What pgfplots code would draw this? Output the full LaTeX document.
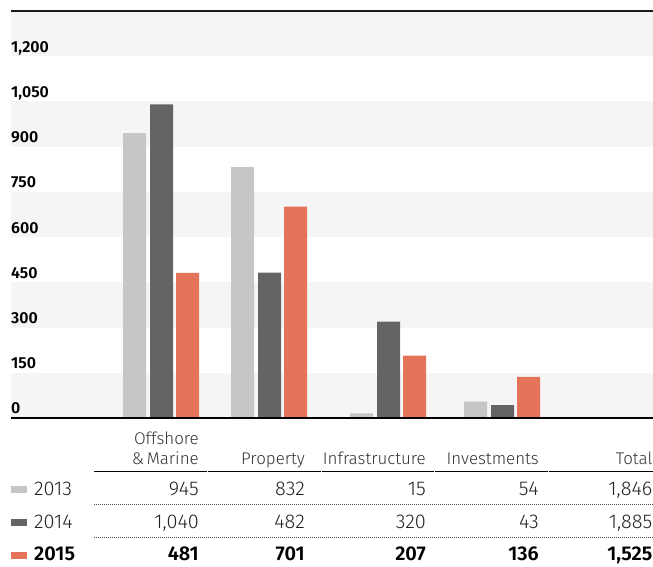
\documentclass[border=0pt]{standalone}
\usepackage{fontspec}
\setmainfont{Fira Sans}[UprightFont={* Light}, BoldFont={* SemiBold}]
\usepackage{pgfplots}
\pgfplotsset{compat=1.18}
\definecolor{c13}{HTML}{C6C6C6}
\definecolor{c14}{HTML}{646464}
\definecolor{c15}{HTML}{E5735A}
\definecolor{band}{HTML}{F5F5F5}
\definecolor{txt}{HTML}{222222}
\definecolor{hdr}{HTML}{333333}
\newcommand{\hfont}{\fontsize{17}{17}\selectfont}
\newcommand{\vfont}{\fontsize{20}{20}\selectfont}
\begin{document}
\begin{tikzpicture}[x=1bp,y=1bp]
\useasboundingbox (0,0) rectangle (653,567);
% background bands (each 150 units = 45.222bp)
\foreach \lo/\hi in {149/194.222, 239.444/284.667, 329.889/375.111, 420.333/465.556, 510.778/556}
  \fill[band] (11,\lo) rectangle (653,\hi);
\begin{axis}[at={(10bp,149bp)}, anchor=south west, scale only axis,
  width=643bp, height=407bp,
  xmin=10, xmax=653, ymin=0, ymax=1350,
  axis line style={draw=none}, xtick=\empty,
  ytick={0,150,...,1200},
  yticklabels={0,150,300,450,600,750,900,{1,050},{1,200}},
  major tick length=0pt,
  yticklabel style={anchor=base west, inner sep=0pt, xshift=1bp, yshift=4bp,
    font=\fontsize{16}{16}\selectfont\bfseries, text=black},
  ybar, bar width=23, bar shift=0pt, clip=false]
\addplot[fill=c13, draw=none] coordinates {(134.5,945) (242.5,832) (361.5,15) (475.5,54)};
\addplot[fill=c14, draw=none] coordinates {(161.5,1040) (269.5,482) (388.5,320) (502.5,43)};
\addplot[fill=c15, draw=none] coordinates {(187.5,481) (295.5,701) (414.5,207) (528.5,136)};
\draw[line width=2.5bp, black] (axis cs:11,0) -- (axis cs:653,0);
\draw[line width=2.5bp, black!90] (axis cs:11,1350) -- (axis cs:653,1350);
\end{axis}
% header
\node[anchor=base east, inner sep=0pt, text=hdr, font=\hfont] at (199,122.3) {Offshore};
\node[anchor=base east, inner sep=0pt, text=hdr, font=\hfont] at (199,102.3) {\&\,Marine};
\node[anchor=base east, inner sep=0pt, text=hdr, font=\hfont] at (305,102.3) {Property};
\node[anchor=base east, inner sep=0pt, text=hdr, font=\hfont] at (426,102.3) {Infrastructure};
\node[anchor=base east, inner sep=0pt, text=hdr, font=\hfont] at (539,102.3) {Investments};
\node[anchor=base east, inner sep=0pt, text=hdr, font=\hfont] at (652.5,102.3) {Total};
\foreach \a/\b in {94/206.5,207.5/320.5,321.5/433.5,434.5/547.5,548.5/653}
  \draw[line width=1.3bp, black] (\a,95.3) -- (\b,95.3);
% dotted lines
\foreach \yy in {63,30}
  \draw[line width=0.9bp, black!70, dash pattern=on 0.9bp off 1.1bp] (94,\yy) -- (653,\yy);
% legend squares
\fill[c13] (11,74) rectangle (27,81);
\fill[c14] (11,41) rectangle (27,48);
\fill[c15] (11,8) rectangle (27,15);
% rows
\node[anchor=base west, inner sep=0pt, text=txt, font=\vfont] at (34,71) {2013};
\node[anchor=base west, inner sep=0pt, text=txt, font=\vfont] at (34,38) {2014};
\node[anchor=base west, inner sep=0pt, text=black, font=\vfont\bfseries] at (34,6) {2015};
\foreach \xx/\t in {199/945,305/832,426/15,539/54,652.5/{1,846}}
  \node[anchor=base east, inner sep=0pt, text=txt, font=\vfont] at (\xx,71) {\t};
\foreach \xx/\t in {199/{1,040},305/482,426/320,539/43,652.5/{1,885}}
  \node[anchor=base east, inner sep=0pt, text=txt, font=\vfont] at (\xx,38) {\t};
\foreach \xx/\t in {199/481,305/701,426/207,539/136,652.5/{1,525}}
  \node[anchor=base east, inner sep=0pt, text=black, font=\vfont\bfseries] at (\xx,6) {\t};
\end{tikzpicture}
\end{document}
